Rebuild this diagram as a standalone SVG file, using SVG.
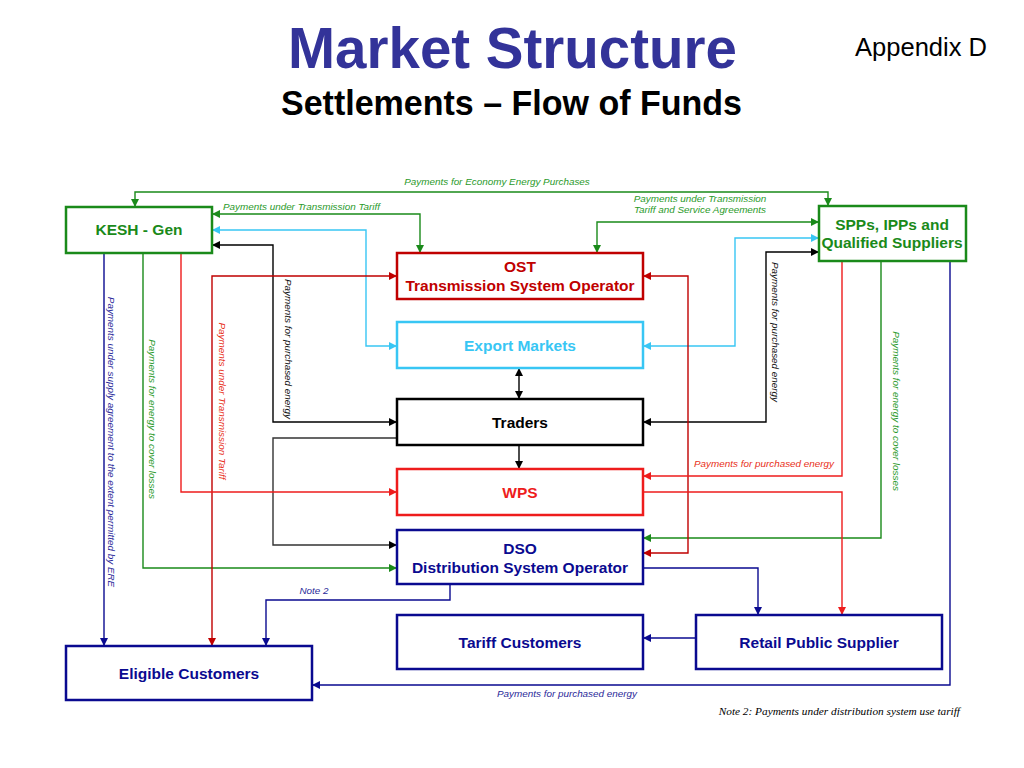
<svg xmlns="http://www.w3.org/2000/svg" width="1024" height="768" viewBox="0 0 1024 768">
<style>
.box{fill:#fff;stroke-width:2.5}
.bt{font-family:"Liberation Sans",Arial,sans-serif;font-weight:bold;font-size:15.5px;text-anchor:middle}
.ln{fill:none;stroke-width:1.4}
.lb{font-family:"Liberation Sans",Arial,sans-serif;font-style:italic;font-size:9.9px}
.green{stroke:#1a8a1a}
.red{stroke:#ee1c1c}
.dred{stroke:#c00000}
.blue{stroke:#38c6f4}
.navy{stroke:#0a0a90}
.blk{stroke:#000}
</style>
<defs>
<marker id="ag" viewBox="0 0 8 8" refX="8" refY="4" markerWidth="8" markerHeight="8" markerUnits="userSpaceOnUse" orient="auto-start-reverse"><path d="M0,0 L8,4 L0,8 z" fill="#1a8a1a"/></marker>
<marker id="ar" viewBox="0 0 8 8" refX="8" refY="4" markerWidth="8" markerHeight="8" markerUnits="userSpaceOnUse" orient="auto-start-reverse"><path d="M0,0 L8,4 L0,8 z" fill="#ee1c1c"/></marker>
<marker id="adr" viewBox="0 0 8 8" refX="8" refY="4" markerWidth="8" markerHeight="8" markerUnits="userSpaceOnUse" orient="auto-start-reverse"><path d="M0,0 L8,4 L0,8 z" fill="#c00000"/></marker>
<marker id="ab" viewBox="0 0 8 8" refX="8" refY="4" markerWidth="8" markerHeight="8" markerUnits="userSpaceOnUse" orient="auto-start-reverse"><path d="M0,0 L8,4 L0,8 z" fill="#38c6f4"/></marker>
<marker id="an" viewBox="0 0 8 8" refX="8" refY="4" markerWidth="8" markerHeight="8" markerUnits="userSpaceOnUse" orient="auto-start-reverse"><path d="M0,0 L8,4 L0,8 z" fill="#0a0a90"/></marker>
<marker id="ak" viewBox="0 0 8 8" refX="8" refY="4" markerWidth="8" markerHeight="8" markerUnits="userSpaceOnUse" orient="auto-start-reverse"><path d="M0,0 L8,4 L0,8 z" fill="#000"/></marker>
</defs>
<rect width="1024" height="768" fill="#fff"/>

<g id="title">
<text x="288" y="68" font-family="'Liberation Sans',Arial,sans-serif" font-weight="bold" font-size="57" fill="#333399" textLength="449" lengthAdjust="spacingAndGlyphs">Market Structure</text>
<text x="281" y="115" font-family="'Liberation Sans',Arial,sans-serif" font-weight="bold" font-size="35" fill="#000" textLength="461" lengthAdjust="spacingAndGlyphs">Settlements – Flow of Funds</text>
<text x="855" y="56" font-family="'Liberation Sans',Arial,sans-serif" font-size="25" fill="#000" textLength="132" lengthAdjust="spacingAndGlyphs">Appendix D</text>
</g>

<g id="connectors">
<path class="ln green" d="M135,207 V192 H828 V206" marker-start="url(#ag)" marker-end="url(#ag)"/>
<path class="ln green" d="M212,214 H420 V253" marker-start="url(#ag)" marker-end="url(#ag)"/>
<path class="ln green" d="M597,253 V222 H819" marker-start="url(#ag)" marker-end="url(#ag)"/>
<path class="ln green" d="M143,253 V568 H397" marker-end="url(#ag)"/>
<path class="ln green" d="M881,261 V538 H643" marker-end="url(#ag)"/>

<path class="ln blue" d="M212,230 H366 V346 H397" marker-start="url(#ab)" marker-end="url(#ab)"/>
<path class="ln blue" d="M643,346 H735 V238 H819" marker-start="url(#ab)" marker-end="url(#ab)"/>

<path class="ln blk" d="M212,245 H273 V422 H397" marker-start="url(#ak)" marker-end="url(#ak)"/>
<path class="ln blk" d="M643,422 H766 V252 H819" marker-start="url(#ak)" marker-end="url(#ak)"/>
<path class="ln" stroke="#333" d="M397,438 H273 V545 H397" marker-end="url(#ak)"/>
<path class="ln blk" d="M519,368 V399" marker-start="url(#ak)" marker-end="url(#ak)"/>
<path class="ln blk" d="M519,445 V469" marker-end="url(#ak)"/>

<path class="ln dred" d="M212,646 V276 H397" marker-start="url(#adr)" marker-end="url(#adr)"/>
<path class="ln dred" d="M643,276 H688 V553 H643" marker-start="url(#adr)" marker-end="url(#adr)"/>

<path class="ln red" d="M181,253 V492 H397" marker-end="url(#ar)"/>
<path class="ln red" d="M842,261 V476 H643" marker-end="url(#ar)"/>
<path class="ln red" d="M643,492 H842 V615" marker-end="url(#ar)"/>

<path class="ln navy" d="M104,253 V646" marker-end="url(#an)"/>
<path class="ln navy" d="M450,584 V600 H266 V646" marker-end="url(#an)"/>
<path class="ln navy" d="M643,568 H758 V615" marker-end="url(#an)"/>
<path class="ln navy" d="M696,638 H643" marker-end="url(#an)"/>
<path class="ln navy" d="M950,261 V685 H312" marker-end="url(#an)"/>

<text class="lb" x="497" y="185" text-anchor="middle" fill="#2a9a2a">Payments for Economy Energy Purchases</text>
<text class="lb" x="223" y="210" fill="#2a9a2a">Payments under Transmission Tariff</text>
<text class="lb" x="700" y="202" text-anchor="middle" fill="#2a9a2a">Payments under Transmission</text>
<text class="lb" x="700" y="213" text-anchor="middle" fill="#2a9a2a">Tariff and Service Agreements</text>
<text class="lb" x="834" y="467" text-anchor="end" fill="#e83020">Payments for purchased energy</text>
<text class="lb" x="314" y="594" text-anchor="middle" fill="#2a2a9a">Note 2</text>
<text class="lb" x="567" y="697" text-anchor="middle" fill="#2a2a9a">Payments for purchased energy</text>

<text class="lb" transform="translate(108,442) rotate(90)" text-anchor="middle" fill="#2a2a9a">Payments under supply agreement to the extent permitted by ERE</text>
<text class="lb" transform="translate(149,419) rotate(90)" text-anchor="middle" fill="#2a9a2a">Payments for energy to cover losses</text>
<text class="lb" transform="translate(219,401) rotate(90)" text-anchor="middle" fill="#e83020">Payments under Transmission Tariff</text>
<text class="lb" transform="translate(285,349) rotate(90)" text-anchor="middle" fill="#111">Payments for purchased energy</text>
<text class="lb" transform="translate(772,332) rotate(90)" text-anchor="middle" fill="#111">Payments for purchased energy</text>
<text class="lb" transform="translate(893,411) rotate(90)" text-anchor="middle" fill="#2a9a2a">Payments for energy to cover losses</text>
</g>

<g id="kesh">
<rect class="box green" x="66" y="207" width="146" height="46"/>
<text class="bt" x="139" y="235" fill="#1a8a1a">KESH - Gen</text>
</g>
<g id="spps">
<rect class="box green" x="819" y="206" width="147" height="55"/>
<text class="bt" x="892" y="230" fill="#1a8a1a">SPPs, IPPs and</text>
<text class="bt" x="892" y="248" fill="#1a8a1a">Qualified Suppliers</text>
</g>
<g id="ost">
<rect class="box dred" x="397" y="253" width="246" height="46"/>
<text class="bt" x="520" y="272" fill="#c00000">OST</text>
<text class="bt" x="520" y="291" fill="#c00000">Transmission System Operator</text>
</g>
<g id="export">
<rect class="box blue" x="397" y="322" width="246" height="46"/>
<text class="bt" x="520" y="351" fill="#38c6f4">Export Markets</text>
</g>
<g id="traders">
<rect class="box blk" x="397" y="399" width="246" height="46"/>
<text class="bt" x="520" y="428" fill="#000">Traders</text>
</g>
<g id="wps">
<rect class="box red" x="397" y="469" width="246" height="46"/>
<text class="bt" x="520" y="498" fill="#ee1c1c">WPS</text>
</g>
<g id="dso">
<rect class="box navy" x="397" y="530" width="246" height="54"/>
<text class="bt" x="520" y="554" fill="#0a0a90">DSO</text>
<text class="bt" x="520" y="573" fill="#0a0a90">Distribution System Operator</text>
</g>
<g id="tariff">
<rect class="box navy" x="397" y="615" width="246" height="54"/>
<text class="bt" x="520" y="648" fill="#0a0a90">Tariff Customers</text>
</g>
<g id="retail">
<rect class="box navy" x="696" y="615" width="246" height="54"/>
<text class="bt" x="819" y="648" fill="#0a0a90">Retail Public Supplier</text>
</g>
<g id="eligible">
<rect class="box navy" x="66" y="646" width="246" height="54"/>
<text class="bt" x="189" y="679" fill="#0a0a90">Eligible Customers</text>
</g>

<text x="960" y="715" text-anchor="end" font-family="'Liberation Serif','Times New Roman',serif" font-style="italic" font-size="11.3" fill="#000">Note 2: Payments under distribution system use tariff</text>
</svg>
